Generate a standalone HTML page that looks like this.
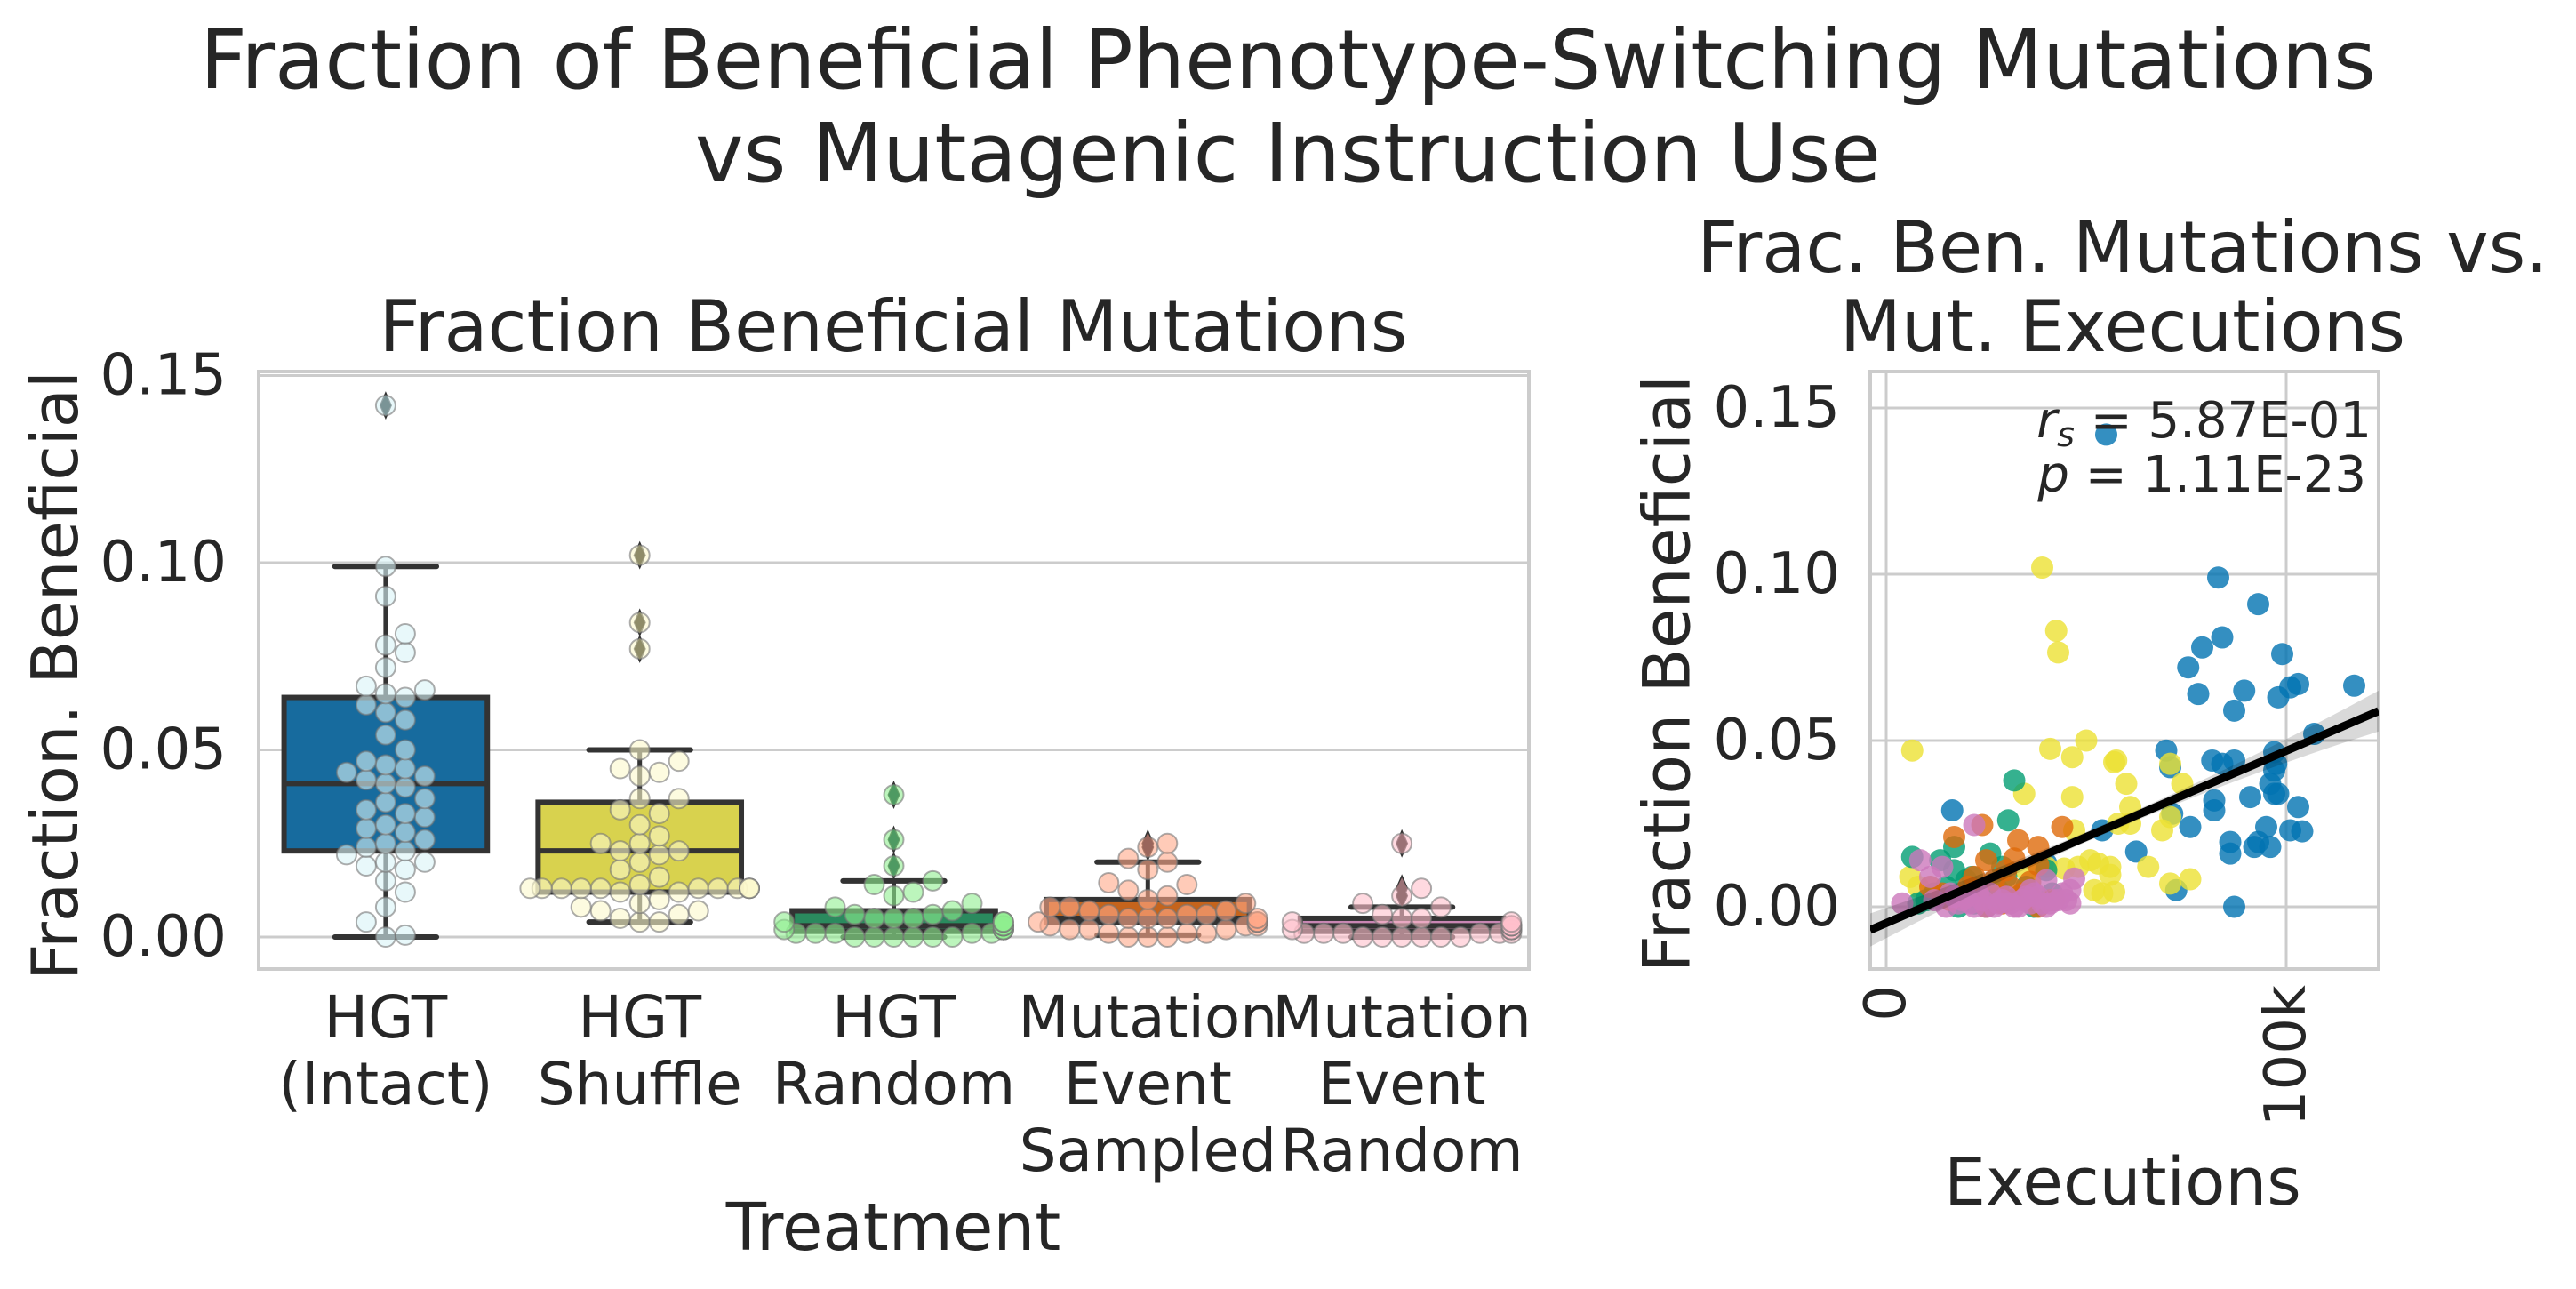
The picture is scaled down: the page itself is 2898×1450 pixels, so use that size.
<!DOCTYPE html>
<html><head><meta charset="utf-8"><style>
html,body{margin:0;padding:0;background:#fff}
svg{display:block;font-family:"DejaVu Sans","Liberation Sans",sans-serif}
</style></head><body>
<svg id="fig" width="2898" height="1450" viewBox="0 0 2898 1450" xmlns="http://www.w3.org/2000/svg">
<text x="1449" y="99" font-size="92" fill="#262626" text-anchor="middle">Fraction of Beneficial Phenotype-Switching Mutations</text>
<text x="1449" y="204" font-size="92" fill="#262626" text-anchor="middle">vs Mutagenic Instruction Use</text>
<text x="1005" y="395" font-size="80" fill="#262626" text-anchor="middle">Fraction Beneficial Mutations</text>
<text x="2388" y="306" font-size="80" fill="#262626" text-anchor="middle">Frac. Ben. Mutations vs.</text>
<text x="2388" y="395" font-size="80" fill="#262626" text-anchor="middle">Mut. Executions</text>
<g id="left"></g>
<g id="right"></g>
</svg>
<script>
const NS='http://www.w3.org/2000/svg';
function mk(tag,attrs,parent,text){const e=document.createElementNS(NS,tag);for(const k in attrs)e.setAttribute(k,attrs[k]);if(text!==undefined)e.textContent=text;parent.appendChild(e);return e;}

// ---------- LEFT: box + swarm ----------
const categories=['HGT (Intact)','HGT Shuffle','HGT Random','Mutation Event Sampled','Mutation Event Random'];
const catLines=[['HGT','(Intact)'],['HGT','Shuffle'],['HGT','Random'],['Mutation','Event','Sampled'],['Mutation','Event','Random']];
const q1=[0.023,0.012,0.0015,0.004,0.0015];
const medians=[0.041,0.023,0.003,0.005,0.003];
const q3=[0.064,0.036,0.007,0.010,0.005];
const whiskLo=[0.0,0.004,0.0,0.0005,0.0];
const whiskHi=[0.099,0.050,0.015,0.020,0.008];
const outliers=[[0.142],[0.102,0.084,0.077],[0.038,0.026,0.019],[0.025,0.024],[0.025,0.013,0.011]];
const swarmIntact=[0,0.0005,0.004,0.008,0.012,0.015,0.018,0.019,0.02,0.02,0.022,0.023,0.024,0.025,0.026,0.028,0.029,0.03,0.032,0.033,0.034,0.036,0.037,0.04,0.041,0.042,0.043,0.044,0.045,0.046,0.047,0.05,0.054,0.058,0.06,0.062,0.064,0.065,0.066,0.067,0.072,0.076,0.078,0.081,0.091,0.099,0.142];
const swarmShuffle=[0.102,0.084,0.077,0.05,0.047,0.045,0.044,0.043,0.037,0.037,0.034,0.033,0.03,0.027,0.025,0.025,0.023,0.023,0.022,0.02,0.018,0.016,0.014,0.013,0.013,0.013,0.013,0.013,0.013,0.013,0.013,0.013,0.013,0.013,0.012,0.012,0.01,0.009,0.008,0.007,0.007,0.006,0.005,0.004,0.004];
const swarmRandom=[0.038,0.026,0.019,0.015,0.014,0.012,0.011,0.009,0.008,0.007,0.006,0.006,0.005,0.005,0.005,0.004,0.004,0.004,0.004,0.003,0.003,0.003,0.003,0.003,0.003,0.002,0.002,0.002,0.002,0.002,0.002,0.001,0.001,0.001,0.001,0.001,0,0,0,0,0,0];
const swarmSampled=[0.025,0.024,0.021,0.02,0.018,0.014,0.0145,0.0125,0.011,0.01,0.009,0.008,0.008,0.007,0.007,0.006,0.006,0.006,0.005,0.005,0.005,0.005,0.004,0.004,0.004,0.004,0.003,0.003,0.003,0.002,0.002,0.002,0.001,0.001,0.001,0,0,0];
const swarmEvRand=[0.025,0.013,0.011,0.009,0.008,0.006,0.005,0.005,0.004,0.004,0.003,0.003,0.003,0.003,0.002,0.002,0.002,0.002,0.002,0.001,0.001,0.001,0.001,0.001,0.001,0,0,0,0,0,0];
const yTicksL=[0,0.05,0.10,0.15];
const yTickLabelsL=['0.00','0.05','0.10','0.15'];

const boxColors=['#176b9e','#d8d24e','#2a8a5e','#c5641c','#c886b3'];
const dotColors=['#d8f4f6','#fbf8cc','#90ee90','#ffa888','#ffc0cb'];
const outColors=['#7a9496','#8f8c68','#4e9a62','#9a665c','#9a7276'];

const L={x0:291,x1:1720,y0:418,y1:1090};
const yL=v=>1054-(v)*4210;
const bw=(L.x1-L.x0)/categories.length;
const xC=i=>L.x0+bw*(i+0.5);
const left=document.getElementById('left');
const lpa=mk('rect',{x:L.x0,y:L.y0,width:L.x1-L.x0,height:L.y1-L.y0,fill:'#fff',stroke:'#cccccc','stroke-width':4},left);


yTicksL.forEach((t,i)=>{
  const g=mk('line',{x1:L.x0,x2:L.x1,y1:yL(t),y2:yL(t),stroke:'#cccccc','stroke-width':3},left);
  
  
  const tl=mk('text',{x:255,y:yL(t),'font-size':64,fill:'#262626','text-anchor':'end','dominant-baseline':'central'},left,yTickLabelsL[i]);
  
  
});
const yl=mk('text',{x:62,y:760,'font-size':72,fill:'#262626','text-anchor':'middle','dominant-baseline':'central',transform:'rotate(-90 62 760)'},left,'Fraction. Beneficial');


const xt=mk('text',{x:1005,y:1406,'font-size':74,fill:'#262626','text-anchor':'middle'},left,'Treatment');


catLines.forEach((lines,i)=>{lines.forEach((s,j)=>{
  const t=mk('text',{x:xC(i),y:1167+j*75,'font-size':66,fill:'#262626','text-anchor':'middle'},left,s);
  
  
});});
const bhw=bw*0.4;
categories.forEach((c,i)=>{
  const g=mk('g',{},left);
  
  
  const cx=xC(i);
  mk('line',{x1:cx,x2:cx,y1:yL(whiskLo[i]),y2:yL(q1[i]),stroke:'#333','stroke-width':5},g);
  mk('line',{x1:cx,x2:cx,y1:yL(q3[i]),y2:yL(whiskHi[i]),stroke:'#333','stroke-width':5},g);
  mk('line',{x1:cx-bhw/2,x2:cx+bhw/2,y1:yL(whiskLo[i]),y2:yL(whiskLo[i]),stroke:'#333','stroke-width':6,'stroke-linecap':'round'},g);
  mk('line',{x1:cx-bhw/2,x2:cx+bhw/2,y1:yL(whiskHi[i]),y2:yL(whiskHi[i]),stroke:'#333','stroke-width':6,'stroke-linecap':'round'},g);
  mk('rect',{x:cx-bhw,y:yL(q3[i]),width:bhw*2,height:Math.max(2,yL(q1[i])-yL(q3[i])),fill:boxColors[i],stroke:'#333','stroke-width':6},g);
  mk('line',{x1:cx-bhw,x2:cx+bhw,y1:yL(medians[i]),y2:yL(medians[i]),stroke:'#333','stroke-width':6},g);
  outliers[i].forEach(v=>{const d=mk('path',{d:`M${cx} ${yL(v)-16} L${cx+7} ${yL(v)} L${cx} ${yL(v)+16} L${cx-7} ${yL(v)} Z`,fill:'#333'},g);
    
    });
});
const swarms=[swarmIntact,swarmShuffle,swarmRandom,swarmSampled,swarmEvRand];
const R=11;
swarms.forEach((vals,i)=>{
  const g=mk('g',{},left);
  
  
  const cx=xC(i);const placed=[];
  const sorted=vals.slice().sort((a,b)=>a-b);
  sorted.forEach(v=>{
    const y=yL(v);
    const cands=[0];for(let k=1;k<40;k++){cands.push(k*R);cands.push(-k*R);}
    let found=null;
    for(const off of cands){
      let ok=true;for(const p of placed){const dx=p[0]-off,dy=p[1]-y;if(dx*dx+dy*dy<(2*R-1)*(2*R-1)){ok=false;break;}}
      if(ok){found=off;break;}
    }
    if(found===null)found=0;
    const lim=bw*0.47-R;if(found>lim)found=lim;if(found<-lim)found=-lim;
    placed.push([found,y]);
    const c=mk('circle',{cx:cx+found,cy:y,r:R,fill:dotColors[i],'fill-opacity':0.6,stroke:'#777','stroke-opacity':0.6,'stroke-width':2},g);
    
    
  });
  outliers[i].forEach(v=>{const d=mk('path',{d:`M${cx} ${yL(v)-12} L${cx+6} ${yL(v)} L${cx} ${yL(v)+12} L${cx-6} ${yL(v)} Z`,fill:outColors[i]},g);
    
    });
});

// ---------- RIGHT: scatter + regression ----------
const blueX=[55,83,93,84,79,99,75.5,78,89.5,87,98,101,103,117,107,70,71,81.5,84,87,97,97.5,97,96,97,98,91,82,82,103,71.5,76,54,101,104,62.5,86,86,93,92,95,96,72.5,87,16.5,40];
const blueY=[0.142,0.099,0.091,0.081,0.078,0.076,0.072,0.064,0.065,0.059,0.063,0.066,0.067,0.0665,0.052,0.047,0.042,0.044,0.043,0.044,0.0465,0.043,0.041,0.037,0.034,0.034,0.033,0.032,0.029,0.030,0.028,0.024,0.023,0.023,0.0227,0.0166,0.0195,0.016,0.0195,0.018,0.024,0.018,0.005,0.0,0.029,0.013];
const yellowX=[39,42.5,43,6.5,41,50,46.5,57.5,57,71,60,74,34.5,46.5,61,71,58,61,47,69,51,53,56,48,44.5,65.5,56,76,71,52,54,57,8,6,38,40,35];
const yellowY=[0.102,0.083,0.0765,0.047,0.0475,0.050,0.045,0.044,0.0435,0.043,0.037,0.037,0.034,0.033,0.030,0.027,0.025,0.025,0.023,0.023,0.014,0.013,0.012,0.012,0.0115,0.012,0.0096,0.0083,0.007,0.005,0.004,0.0045,0.006,0.009,0.003,0.012,0.011];
const greenX=[32,30.5,6.5,17,13.5,17,26,29,21.5,40,41.5,12,15,20,24,28,31,35,38,10,18,22,27,33,37,42,8,14,25,30];
const greenY=[0.038,0.026,0.015,0.018,0.014,0.011,0.016,0.012,0.009,0.011,0.004,0.004,0.006,0.008,0.003,0.005,0.002,0.006,0.001,0.002,0.0,0.001,0.007,0.003,0.0,0.002,0.001,0.003,0.0,0.009];
const orangeX=[24,17,33,38,44,25,32,38,20.5,11,28.5,25,38,16,36,22,30,34,27,19,14,41,29,23,31,36];
const orangeY=[0.0246,0.021,0.020,0.018,0.024,0.014,0.0145,0.0126,0.006,0.006,0.0035,0.0,0.0,0.002,0.0075,0.009,0.011,0.004,0.008,0.003,0.004,0.002,0.001,0.005,0.006,0.003];
const pinkX=[22,8.5,14,11,4,47,46,46,40,36,12,16,18,20,22,24,26,28,30,32,34,36,38,40,42,44,15,19,23,27,31,35,39,43,17,21,25,29,33,37,41,45];
const pinkY=[0.0246,0.014,0.012,0.009,0.001,0.0085,0.005,0.001,0.008,0.005,0.002,0.004,0.001,0.003,0.0,0.002,0.004,0.001,0.003,0.0,0.002,0.001,0.003,0.0,0.002,0.004,0.0,0.002,0.004,0.0,0.001,0.003,0.001,0.002,0.003,0.001,0.0,0.002,0.0,0.004,0.001,0.002];
const regIntercept=[-0.0049];
const regSlope=[0.000518];
const xTicksR=[0,100];
const xTickLabelsR=['0','100k'];
const yTicksR=[0,0.05,0.10,0.15];
const yTickLabelsR=['0.00','0.05','0.10','0.15'];

const RB={x0:2104,x1:2676,y0:418,y1:1090};
const xR=k=>2122+k*4.5;
const yR=v=>1020-v*3740;
const kMin=(RB.x0-2122)/4.5,kMax=(RB.x1-2122)/4.5;
const right=document.getElementById('right');
const defs=mk('defs',{},right);
const cp=mk('clipPath',{id:'rclip'},defs);
mk('rect',{x:RB.x0,y:RB.y0,width:RB.x1-RB.x0,height:RB.y1-RB.y0},cp);
const pa=mk('rect',{x:RB.x0,y:RB.y0,width:RB.x1-RB.x0,height:RB.y1-RB.y0,fill:'#fff',stroke:'#cccccc','stroke-width':4},right);


yTicksR.forEach((t,i)=>{
  const g=mk('line',{x1:RB.x0,x2:RB.x1,y1:yR(t),y2:yR(t),stroke:'#cccccc','stroke-width':3},right);
  
  
  const tl=mk('text',{x:2070,y:yR(t),'font-size':64,fill:'#262626','text-anchor':'end','dominant-baseline':'central'},right,yTickLabelsR[i]);
  
  
});
xTicksR.forEach((t,i)=>{
  const g=mk('line',{x1:xR(t),x2:xR(t),y1:RB.y0,y2:RB.y1,stroke:'#cccccc','stroke-width':3},right);
  
  
  const tl=mk('text',{x:xR(t),y:1108,'font-size':64,fill:'#262626','text-anchor':'end','dominant-baseline':'central',transform:`rotate(-90 ${xR(t)} 1108)`},right,xTickLabelsR[i]);
  
  
});
const ryl=mk('text',{x:1876,y:758,'font-size':73,fill:'#262626','text-anchor':'middle','dominant-baseline':'central',transform:'rotate(-90 1876 758)'},right,'Fraction Beneficial');


const rxt=mk('text',{x:2388,y:1355,'font-size':74,fill:'#262626','text-anchor':'middle'},right,'Executions');



const sg=mk('g',{'clip-path':'url(#rclip)'},right);
const series=[[blueX,blueY,'#0173b2'],[yellowX,yellowY,'#ece133'],[greenX,greenY,'#029e73'],[orangeX,orangeY,'#de6a0a'],[pinkX,pinkY,'#cc78bc']];
series.forEach((s,si)=>{
  const g=mk('g',{},sg);
  
  
  s[0].forEach((x,j)=>{const c=mk('circle',{cx:xR(x),cy:yR(s[1][j]),r:12.5,fill:s[2],'fill-opacity':0.8},g);
    
    });
});
const xm=55;const bandTop=[],bandBot=[];
for(let k=kMin;k<=kMax+0.01;k+=(kMax-kMin)/30){const f=regIntercept[0]+regSlope[0]*k;const hw=0.0015+0.000001*Math.pow(k-xm,2);bandTop.push(xR(k)+','+yR(f+hw));bandBot.unshift(xR(k)+','+yR(f-hw));}
const band=mk('polygon',{points:bandTop.concat(bandBot).join(' '),fill:'#000','fill-opacity':0.15},sg);


const rl=mk('line',{x1:xR(kMin),y1:yR(regIntercept[0]+regSlope[0]*kMin),x2:xR(kMax),y2:yR(regIntercept[0]+regSlope[0]*kMax),stroke:'#000','stroke-width':9},sg);


const a1=mk('text',{x:2668,y:492,'font-size':56,fill:'#262626','text-anchor':'end'},right);


mk('tspan',{'font-style':'italic'},a1,'r');mk('tspan',{'font-style':'italic','font-size':38,dy:10},a1,'s');mk('tspan',{dy:-10},a1,' = 5.87E-01');
const a2=mk('text',{x:2662,y:553,'font-size':56,fill:'#262626','text-anchor':'end'},right);


mk('tspan',{'font-style':'italic'},a2,'p');mk('tspan',{},a2,' = 1.11E-23');
</script>
</body></html>
